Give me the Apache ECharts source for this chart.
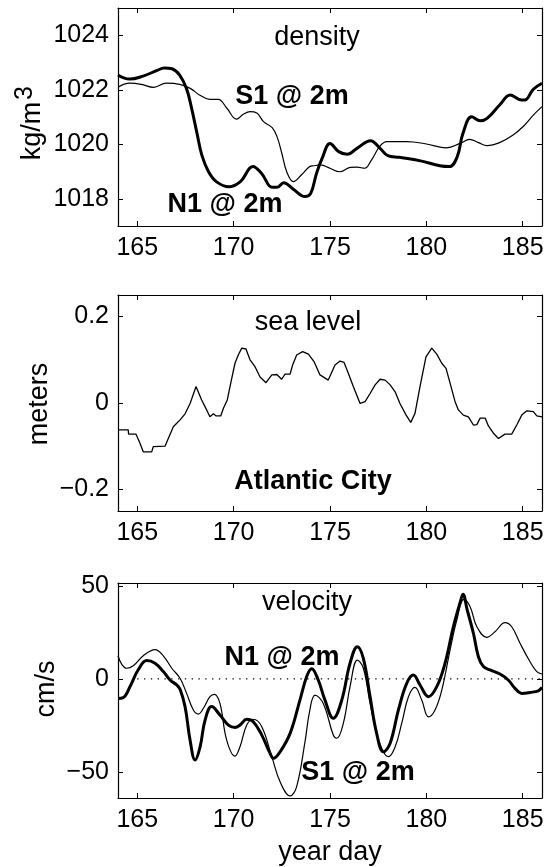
<!DOCTYPE html>
<html><head><meta charset="utf-8">
<script src="https://cdn.jsdelivr.net/npm/echarts@6/dist/echarts.min.js"></script>
<style>html,body{margin:0;padding:0;background:#fff}#c{width:555px;height:867px}</style>
</head><body><div id="c"></div>
<script>
// ---- tick values ----
const xTicks = [165, 170, 175, 180, 185];
const densTicks = [1018, 1020, 1022, 1024];
const seaTicks = [-0.2, 0, 0.2];
const velTicks = [-50, 0, 50];

// ---- density (kg/m^3) ----
const densN1Day = [164.0,164.6,165.3,166.0,166.4,166.8,167.2,167.55,167.8,168.1,168.35,168.7,169.1,169.75,170.35,171.0,171.45,172.0,172.25,172.6,173.1,173.7,174.0,174.3,174.6,175.0,175.45,175.9,176.4,177.1,177.6,178.0,178.6,179.7,180.7,181.2,181.6,181.9,182.35,182.8,183.15,183.8,184.35,184.8,185.1,185.55,186.0];
const densN1Val = [1022.54,1022.39,1022.5,1022.7,1022.8,1022.77,1022.54,1022.05,1021.38,1020.4,1019.6,1018.99,1018.63,1018.44,1018.63,1019.18,1018.93,1018.42,1018.42,1018.59,1018.35,1018.08,1018.2,1018.93,1019.5,1020.03,1019.73,1019.63,1019.85,1020.13,1019.85,1019.58,1019.52,1019.39,1019.21,1019.18,1019.54,1020.4,1021.01,1020.86,1020.95,1021.44,1021.81,1021.65,1021.62,1022.02,1022.24];
const densS1Day = [164.0,164.6,165.2,165.85,166.5,167.2,167.75,168.25,168.75,169.2,169.65,170.15,170.5,170.85,171.2,171.55,172.0,172.25,172.5,172.75,173.1,173.55,173.95,174.15,174.5,175.0,175.5,176.05,176.4,176.8,177.15,177.6,177.95,179.0,180.0,181.05,181.75,182.25,182.7,183.15,183.8,184.5,185.05,185.55,186.0];
const densS1Val = [1022.09,1022.24,1022.2,1022.09,1022.24,1022.2,1022.05,1021.8,1021.65,1021.65,1021.32,1020.92,1021.1,1021.2,1021.15,1020.83,1020.61,1020.28,1019.67,1019.0,1018.63,1018.9,1019.18,1019.21,1019.24,1019.12,1018.99,1019.15,1019.16,1019.12,1019.42,1019.94,1020.1,1020.1,1020.01,1019.87,1020.03,1020.18,1020.06,1019.95,1020.06,1020.34,1020.67,1021.07,1021.38];

// ---- sea level (m), Atlantic City ----
const seaDay = [164.0,164.53,164.55,164.93,165.14,165.31,165.75,165.83,166.44,166.61,166.87,167.22,167.48,167.74,168.05,168.34,168.6,168.77,168.95,169.09,169.33,169.47,169.67,169.85,170.07,170.24,170.42,170.64,170.85,171.11,171.37,171.68,171.98,172.24,172.49,172.67,172.93,173.06,173.27,173.58,173.88,174.17,174.48,174.91,175.26,175.52,175.73,175.95,176.21,176.56,176.82,177.08,177.34,177.6,177.86,178.12,178.38,178.63,178.95,179.19,179.41,179.67,179.98,180.28,180.54,180.8,181.02,181.23,181.49,181.66,181.92,182.18,182.44,182.62,182.79,183.05,183.22,183.48,183.74,184.08,184.43,184.69,184.95,185.21,185.55,185.73,186.0];
const seaVal = [-0.062,-0.062,-0.072,-0.072,-0.093,-0.113,-0.113,-0.101,-0.100,-0.082,-0.055,-0.039,-0.025,-0.001,0.038,0.007,-0.016,-0.032,-0.025,-0.030,-0.030,-0.012,0.007,0.046,0.092,0.111,0.127,0.125,0.100,0.084,0.060,0.047,0.065,0.066,0.055,0.067,0.067,0.088,0.111,0.119,0.113,0.096,0.065,0.053,0.088,0.097,0.094,0.069,0.038,-0.001,0.003,0.022,0.042,0.055,0.053,0.042,0.026,-0.001,-0.028,-0.045,-0.024,0.038,0.107,0.127,0.113,0.092,0.080,0.046,0.003,-0.016,-0.028,-0.032,-0.051,-0.050,-0.035,-0.035,-0.053,-0.070,-0.082,-0.072,-0.072,-0.051,-0.028,-0.018,-0.020,-0.030,-0.032];

// ---- velocity (cm/s) ----
const velN1Day = [164.0,164.28,164.62,165.05,165.49,165.92,166.35,166.7,167.05,167.22,167.48,167.74,168.0,168.26,168.52,168.86,169.29,169.73,170.07,170.33,170.68,171.02,171.46,171.89,172.06,172.41,172.93,173.44,173.8,174.05,174.39,174.74,175.17,175.61,176.04,176.42,176.73,177.08,177.42,177.77,178.12,178.55,178.98,179.33,179.67,180.11,180.54,180.97,181.4,181.75,181.9,182.12,182.44,182.7,182.96,183.3,183.82,184.25,184.6,184.95,185.38,185.81,186.0];
const velN1Val = [-10.5,-10,-4.2,4.9,9.8,8.4,3.9,-0.6,-3.3,-5.6,-14.9,-32.9,-43.6,-36.5,-22.1,-14.9,-19.4,-24.8,-26.1,-24.8,-21.7,-23,-30.2,-40,-42.7,-39.2,-29.3,-11.4,1.5,5.5,-0.6,-11.4,-21.2,-11.4,8.4,17.3,11.0,-9.6,-29.3,-39.2,-34.6,-16.7,-2.4,2.1,-3.3,-9.6,-4.2,8.4,28.0,41,45.5,37,24.5,11.9,6.6,4.8,2.6,-0.6,-5.1,-7.8,-7.3,-6.4,-4.6];
const velS1Day = [164.0,164.19,164.45,164.79,165.31,165.92,166.35,166.79,167.22,167.56,167.91,168.17,168.43,168.77,169.0,169.29,169.64,170.07,170.33,170.68,171.02,171.46,171.98,172.41,172.93,173.27,173.7,173.95,174.22,174.65,175.17,175.35,175.69,176.04,176.42,176.73,177.08,177.42,177.77,178.03,178.38,178.72,179.07,179.41,179.76,180.11,180.45,180.8,181.23,181.58,181.95,182.27,182.62,183.13,183.56,184.08,184.43,184.86,185.38,185.73,186.0];
const velS1Val = [12.4,7.9,5.7,7,12.4,15.7,12.4,5.7,0.3,-7.8,-16.7,-18.9,-15.8,-9.6,-8.3,-13.2,-32.9,-41.5,-36.5,-24.8,-21.7,-25.7,-41.8,-55.3,-62.9,-57.9,-34,-17,-8.7,-13.2,-30.2,-31.9,-23.9,-4.2,10.1,5.7,-13.2,-29.3,-39.2,-41.8,-36.5,-23.9,-9.6,-4.6,-11.4,-20.4,-16.7,-6,15.5,31.6,42.7,38.8,28,22.3,25.3,30.2,28,19.1,9.2,3.9,2.6];
const zeroLineDay = [165, 186];
const zeroLineVal = [0, 0];

// ---- layout / style ----
const FONT = '"Liberation Sans", Arial, Helvetica, sans-serif';
const FS = 25;      // tick labels
const FT = 27;      // annotations and axis titles
const zip = (a, b) => a.map((d, i) => [d, b[i]]);
const minus = v => String(v).replace('-', '\u2212');
const grids = [
  {left: 118, top: 8, width: 424, height: 218},
  {left: 118, top: 295, width: 424, height: 216},
  {left: 118, top: 583, width: 424, height: 215}
];
const yRanges = [[1017, 1025], [-0.25, 0.25], [-64, 51.5]];
const yTickSets = [densTicks, seaTicks, velTicks];

const axLine = {show: true, onZero: false, lineStyle: {color: '#000', width: 1.2}};
const xAxis = [], yAxis = [];
grids.forEach((g, i) => {
  xAxis.push({type: 'value', gridIndex: i, min: 164, max: 186, position: 'bottom',
    axisLine: axLine, splitLine: {show: false},
    axisTick: {show: true, inside: true, length: 5, customValues: xTicks, lineStyle: {color: '#000'}},
    axisLabel: {show: true, customValues: xTicks, margin: 10, color: '#000', fontFamily: FONT, fontSize: FS}});
  xAxis.push({type: 'value', gridIndex: i, min: 164, max: 186, position: 'top',
    axisLine: axLine, splitLine: {show: false},
    axisTick: {show: true, inside: true, length: 5, customValues: xTicks, lineStyle: {color: '#000'}},
    axisLabel: {show: false}});
  yAxis.push({type: 'value', gridIndex: i, min: yRanges[i][0], max: yRanges[i][1], position: 'left',
    axisLine: axLine, splitLine: {show: false},
    axisTick: {show: true, inside: true, length: 5, customValues: yTickSets[i], lineStyle: {color: '#000'}},
    axisLabel: {show: true, customValues: yTickSets[i], margin: 9, color: '#000', fontFamily: FONT, fontSize: FS,
      formatter: v => minus(v)}});
  yAxis.push({type: 'value', gridIndex: i, min: yRanges[i][0], max: yRanges[i][1], position: 'right',
    axisLine: axLine, splitLine: {show: false},
    axisTick: {show: true, inside: true, length: 5, customValues: yTickSets[i], lineStyle: {color: '#000'}},
    axisLabel: {show: false}});
});

function line(gi, data, width, smooth, extra) {
  return Object.assign({type: 'line', xAxisIndex: 2 * gi, yAxisIndex: 2 * gi, data: data,
    showSymbol: false, symbol: 'none', smooth: smooth, silent: true, animation: false,
    lineStyle: {color: '#000', width: width}}, extra || {});
}
const series = [
  line(0, zip(densS1Day, densS1Val), 1.2, 0.4),
  line(0, zip(densN1Day, densN1Val), 3, 0.4),
  line(1, zip(seaDay, seaVal), 1.3, false),
  line(2, zip(zeroLineDay, zeroLineVal), 1.3, false, {lineStyle: {color: '#000', width: 1.3, type: [1.3, 5.5]}}),
  line(2, zip(velS1Day, velS1Val), 1.2, 0.4),
  line(2, zip(velN1Day, velN1Val), 3, 0.4)
];

function txt(x, y, s, weight, size, rotation) {
  const el = {type: 'text', x: x, y: y, silent: true,
    style: {text: s, fill: '#000', font: weight + ' ' + size + 'px ' + FONT, align: 'center', verticalAlign: 'middle'}};
  if (rotation) el.rotation = rotation;
  return el;
}
const rot = Math.PI / 2;
const graphic = [
  txt(317, 38, 'density', 'normal', FT),
  txt(292, 97, 'S1 @ 2m', 'bold', FT),
  txt(225, 205, 'N1 @ 2m', 'bold', FT),
  txt(308, 323, 'sea level', 'normal', FT),
  txt(313, 482, 'Atlantic City', 'bold', FT),
  txt(307, 603, 'velocity', 'normal', FT),
  txt(282, 658, 'N1 @ 2m', 'bold', FT),
  txt(358, 773, 'S1 @ 2m', 'bold', FT),
  txt(33, 131, 'kg/m', 'normal', FT, rot),
  txt(25, 93, '3', 'normal', FT - 2, rot),
  txt(40, 404, 'meters', 'normal', FT, rot),
  txt(47, 689, 'cm/s', 'normal', FT, rot),
  txt(330, 853, 'year day', 'normal', FT)
];

const chart = echarts.init(document.getElementById('c'), null, {renderer: 'canvas'});
chart.setOption({animation: false, backgroundColor: '#fff', grid: grids, xAxis: xAxis, yAxis: yAxis, series: series, graphic: graphic});
</script></body></html>
